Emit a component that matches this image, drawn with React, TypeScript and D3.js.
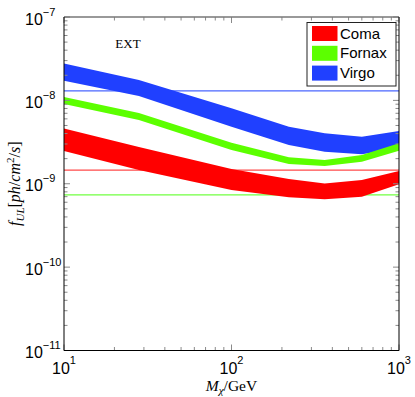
import React from "react";
import * as d3 from "d3";

const masses = [10, 28, 100, 220, 360, 600, 1000];
const comaLow = [2.47e-9, 1.46e-9, 8.41e-10, 6.88e-10, 6.5e-10, 7.0e-10, 9.85e-10];
const comaHigh = [4.6e-9, 2.76e-9, 1.5e-9, 1.14e-9, 1.01e-9, 1.11e-9, 1.42e-9];
const fornaxLow = [9.05e-9, 5.82e-9, 2.54e-9, 1.73e-9, 1.63e-9, 1.84e-9, 2.49e-9];
const fornaxHigh = [1.1e-8, 7.06e-9, 3.11e-9, 2.08e-9, 1.93e-9, 2.21e-9, 3.05e-9];
const virgoLow = [1.72e-8, 1.13e-8, 4.83e-9, 2.92e-9, 2.42e-9, 2.26e-9, 2.65e-9];
const virgoHigh = [2.77e-8, 1.76e-8, 8.04e-9, 4.83e-9, 4.03e-9, 3.66e-9, 4.29e-9];
const refLines = [
  { name: "Coma", value: 1.46e-9 },
  { name: "Fornax", value: 7.35e-10 },
  { name: "Virgo", value: 1.3e-8 },
];
const xTickExps = [1, 2, 3];
const yTickExps = [-11, -10, -9, -8, -7];
const legendNames = ["Coma", "Fornax", "Virgo"];

const fillColors: Record<string, string> = { Coma: "#ff0000", Fornax: "#5cff00", Virgo: "#2040ff" };
const lineColors: Record<string, string> = { Coma: "#ff4a4a", Fornax: "#70ff40", Virgo: "#4a66ff" };

const L = 64, R = 399, T = 17, B = 350.5;

export default function App() {
  const x = d3.scaleLog().domain([10, 1000]).range([L, R]);
  const y = d3.scaleLog().domain([1e-11, 1e-7]).range([B, T]);

  const bands = [
    { name: "Virgo", lo: virgoLow, hi: virgoHigh },
    { name: "Fornax", lo: fornaxLow, hi: fornaxHigh },
    { name: "Coma", lo: comaLow, hi: comaHigh },
  ];

  const makeBand = (lo: number[], hi: number[]) =>
    d3
      .area<number>()
      .x((_, i) => x(masses[i]))
      .y0((_, i) => y(lo[i]))
      .y1((_, i) => y(hi[i]))(masses) as string;

  const xMinor: number[] = [];
  for (let e = 1; e < 3; e++) for (let k = 2; k <= 9; k++) xMinor.push(k * Math.pow(10, e));
  const yMinor: number[] = [];
  for (let e = -11; e < -7; e++) for (let k = 2; k <= 9; k++) yMinor.push(k * Math.pow(10, e));

  const tickColor = "#8a8a8a";
  const sans = "'Liberation Sans', Arial, sans-serif";
  const serif = "'Liberation Serif', 'Times New Roman', serif";

  return (
    <div style={{ position: "absolute", left: 0, top: 0 }}>
      <svg width={415} height={397} style={{ display: "block", background: "#fff" }}>
        <rect x={0} y={0} width={415} height={397} fill="#fff" />
        {refLines.map((r) => (
          <line key={r.name} x1={L} x2={R} y1={y(r.value)} y2={y(r.value)} stroke={lineColors[r.name]} strokeWidth={1.2} />
        ))}
        {bands.map((b) => (
          <path key={b.name} d={makeBand(b.lo, b.hi)} fill={fillColors[b.name]} stroke="none" />
        ))}
        {xMinor.map((v, i) => (
          <g key={"xm" + i} stroke={tickColor} strokeWidth={1}>
            <line x1={x(v)} x2={x(v)} y1={B} y2={B - 3.5} />
            <line x1={x(v)} x2={x(v)} y1={T} y2={T + 3.5} />
          </g>
        ))}
        {xTickExps.map((e) => (
          <g key={"xM" + e} stroke={tickColor} strokeWidth={1}>
            <line x1={x(Math.pow(10, e))} x2={x(Math.pow(10, e))} y1={B} y2={B - 6} />
            <line x1={x(Math.pow(10, e))} x2={x(Math.pow(10, e))} y1={T} y2={T + 6} />
          </g>
        ))}
        {yMinor.map((v, i) => (
          <g key={"ym" + i} stroke={tickColor} strokeWidth={1}>
            <line x1={L} x2={L + 3.5} y1={y(v)} y2={y(v)} />
            <line x1={R} x2={R - 3.5} y1={y(v)} y2={y(v)} />
          </g>
        ))}
        {yTickExps.map((e) => (
          <g key={"yM" + e} stroke={tickColor} strokeWidth={1}>
            <line x1={L} x2={L + 6} y1={y(Math.pow(10, e))} y2={y(Math.pow(10, e))} />
            <line x1={R} x2={R - 6} y1={y(Math.pow(10, e))} y2={y(Math.pow(10, e))} />
          </g>
        ))}
        <line x1={L} x2={R} y1={T} y2={T} stroke="#777" strokeWidth={1.3} />
        <line x1={L} x2={R} y1={B} y2={B} stroke="#000" strokeWidth={1} />
        <line x1={L} x2={L} y1={T} y2={B} stroke="#000" strokeWidth={1} />
        <line x1={R} x2={R} y1={T} y2={B} stroke="#000" strokeWidth={1} />
        {yTickExps.map((e) => (
          <text key={"yl" + e} x={25} y={y(Math.pow(10, e)) + 7.5} fontFamily={sans} fontSize={16} fill="#000">
            10
            <tspan dy={-9} fontSize={11}>{"\u2212" + Math.abs(e)}</tspan>
          </text>
        ))}
        {xTickExps.map((e) => (
          <text key={"xl" + e} x={x(Math.pow(10, e))} y={374} textAnchor="middle" fontFamily={sans} fontSize={16} fill="#000">
            10
            <tspan dy={-10} fontSize={11}>{String(e)}</tspan>
          </text>
        ))}
        <text x={128} y={47.5} textAnchor="middle" fontFamily={serif} fontSize={13} fill="#000">EXT</text>
        <rect x={307} y={22.5} width={89} height={63.5} fill="#fff" stroke="#222" strokeWidth={1} />
        {legendNames.map((n, i) => (
          <g key={"lg" + n}>
            <rect x={312} y={26 + i * 19.8} width={25.5} height={15} fill={fillColors[n]} />
            <text x={340} y={38.5 + i * 19.8} fontFamily={sans} fontSize={15} fill="#000">{n}</text>
          </g>
        ))}
        <text x={231.5} y={391} textAnchor="middle" fontFamily={serif} fontSize={15.5} fill="#000">
          <tspan fontStyle="italic">M</tspan>
          <tspan fontStyle="italic" fontSize={11} dy={3}>χ</tspan>
          <tspan dy={-3}>/GeV</tspan>
        </text>
        <text transform={`translate(20, ${(T + B) / 2}) rotate(-90)`} textAnchor="middle" fontFamily={serif} fontSize={16} fill="#000">
          <tspan fontStyle="italic">f</tspan>
          <tspan fontStyle="italic" fontSize={11} dy={4}>UL</tspan>
          <tspan dy={-4}>[</tspan>
          <tspan fontStyle="italic">ph</tspan>
          <tspan>/</tspan>
          <tspan fontStyle="italic">cm</tspan>
          <tspan fontSize={11} dy={-6}>2</tspan>
          <tspan dy={6}>/</tspan>
          <tspan fontStyle="italic">s</tspan>
          <tspan>]</tspan>
        </text>
      </svg>
    </div>
  );
}
